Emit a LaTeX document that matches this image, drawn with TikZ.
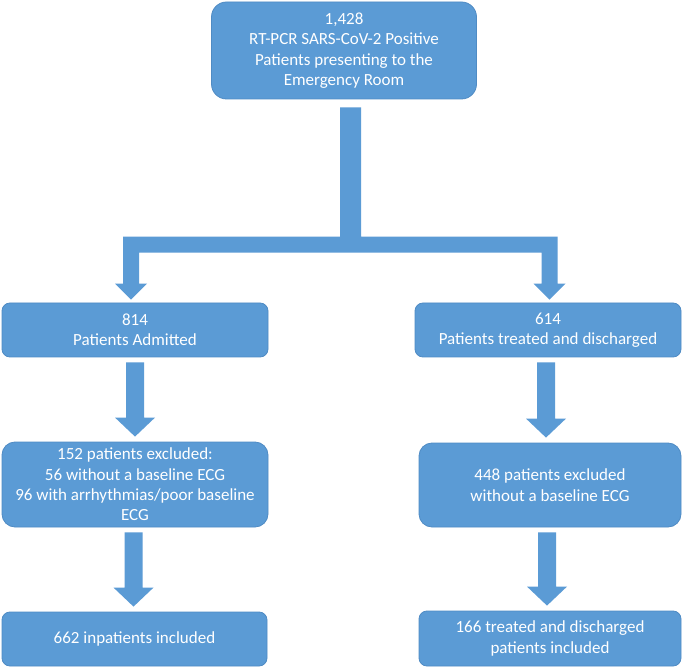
\documentclass[tikz,border=0pt]{standalone}
\usepackage{fontspec}
\setmainfont{Carlito}
\usetikzlibrary{calc}
\definecolor{boxblue}{HTML}{5B9BD5}
\definecolor{boxedge}{HTML}{4F8BC4}
\begin{document}
\begin{tikzpicture}[x=1pt,y=-1pt,
  box/.style={draw=boxedge, line width=0.8pt, fill=boxblue, text=white, align=center,
    font=\fontsize{17}{20.4}\selectfont, inner sep=0pt},
  flow/.style={fill=boxblue}]
\fill[white] (0,0) rectangle (683,668);
\useasboundingbox (0,0) rectangle (683,668);

\node[box, rounded corners=15pt, minimum width=265pt, minimum height=97pt] (top) at (344,50.5)
  {1,428\\RT-PCR SARS-CoV-2 Positive\\Patients presenting to the\\Emergency Room};
\node[box, rounded corners=8pt, minimum width=266pt, minimum height=54pt] (n814) at (135,330)
  {814\\Patients Admitted};
\node[box, rounded corners=8pt, minimum width=266pt, minimum height=54pt] (n614) at (548,330)
  {614\\Patients treated and discharged};
\node[box, rounded corners=13pt, minimum width=266pt, minimum height=85pt] (n152) at (135,484.5)
  {152 patients excluded:\\56 without a baseline ECG\\96 with arrhythmias/poor baseline\\ECG};
\node[box, rounded corners=13pt, minimum width=262pt, minimum height=84pt] (n448) at (550,485)
  {448 patients excluded\\without a baseline ECG};
\node[box, rounded corners=8pt, minimum width=265pt, minimum height=54pt] (n662) at (134.5,639)
  {662 inpatients included};
\node[box, rounded corners=8pt, minimum width=262pt, minimum height=55pt] (n166) at (550,638.5)
  {166 treated and discharged\\patients included};

% split arrow
\fill[flow] let \p1=(top.south), \p2=($(n814.north)+(-4,0)$), \p3=($(n614.north)+(1.5,0)$) in
  (\x1-4pt,\y1-8pt) -- (\x1+17pt,\y1-8pt) -- (\x1+17pt,\y2+66pt) --
  (\x3+8pt,\y2+66pt) -- (\x3+8pt,\y2+19pt) -- (\x3+16pt,\y2+19pt) -- (\x3,\y2+3pt) --
  (\x3-16pt,\y2+19pt) -- (\x3-8pt,\y2+19pt) -- (\x3-8pt,\y2+50pt) --
  (\x2+8pt,\y2+50pt) -- (\x2+8pt,\y2+19pt) -- (\x2+16pt,\y2+19pt) -- (\x2,\y2+3pt) --
  (\x2-16pt,\y2+19pt) -- (\x2-8pt,\y2+19pt) -- (\x2-8pt,\y2+66pt) --
  (\x1-4pt,\y2+66pt) -- cycle;

% vertical arrows
\foreach \a/\b/\dx in {n814/n152/0, n152/n662/-1.5, n614/n448/-2, n448/n166/-3} {
  \fill[flow] let \p1=($(\a.south)+(\dx,0)$), \p2=($(\b.north)+(\dx,0)$) in
    (\x1-9pt,\y1-5pt) -- (\x1+9pt,\y1-5pt) -- (\x1+9pt,\y2+24pt) -- (\x1+20pt,\y2+24pt) --
    (\x1,\y2+5pt) -- (\x1-20pt,\y2+24pt) -- (\x1-9pt,\y2+24pt) -- cycle;
}
\end{tikzpicture}
\end{document}
